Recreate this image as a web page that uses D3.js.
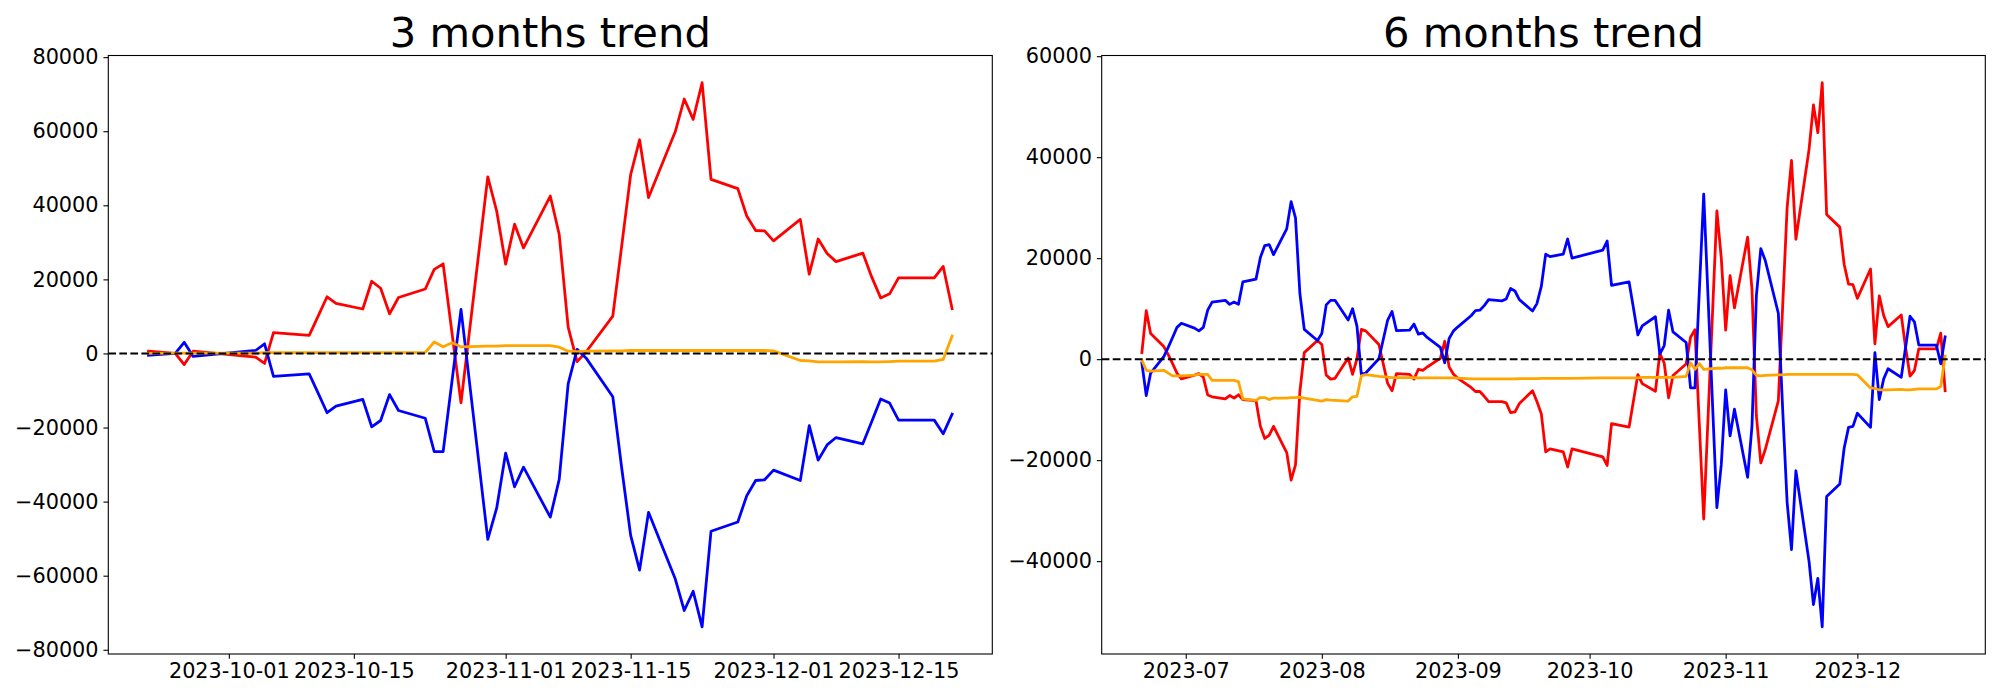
<!DOCTYPE html>
<html><head><meta charset="utf-8">
<script src="https://cdn.jsdelivr.net/npm/d3@7"></script>
<style>
body{margin:0;background:#fff}
svg{display:block}
text{font-family:"DejaVu Sans",sans-serif;fill:#000}
</style>
</head><body>
<svg id="chart" width="2000" height="700"></svg>
<script>
// ---------- 3 months data ----------
const dates3 = ["2023-09-22","2023-09-25","2023-09-26","2023-09-27",
"2023-10-04","2023-10-05","2023-10-06","2023-10-10","2023-10-11","2023-10-12","2023-10-13",
"2023-10-16","2023-10-17","2023-10-18","2023-10-19","2023-10-20",
"2023-10-23","2023-10-24","2023-10-25","2023-10-26","2023-10-27","2023-10-30","2023-10-31",
"2023-11-01","2023-11-02","2023-11-03","2023-11-06","2023-11-07","2023-11-08","2023-11-09","2023-11-10",
"2023-11-13","2023-11-14","2023-11-15","2023-11-16","2023-11-17",
"2023-11-20","2023-11-21","2023-11-22","2023-11-23","2023-11-24",
"2023-11-27","2023-11-28","2023-11-29","2023-11-30","2023-12-01",
"2023-12-04","2023-12-05","2023-12-06","2023-12-07","2023-12-08",
"2023-12-11","2023-12-12","2023-12-13","2023-12-14","2023-12-15",
"2023-12-18","2023-12-19","2023-12-20","2023-12-21"];
const red3 = [600,0,-3000,600, -1000,-2700,5600, 4900,10100,15300,13500, 12000,19500,17600,10700,15100,
17400,22700,24200,5400,-13300, 47700,38400, 24100,34900,28500, 42500,32100,7100,-2200,400,
10100,29100,48300,57700,42100, 59900,68700,63200,73100,47000, 44500,37100,33200,33100, 30400,
36200,21400,30900,27000,24800, 27100,20600,15000,16100,20400, 20400,20400,23500,12100];
const blue3 = [-500,0,3000,-800, 800,2600,-6200, -5500,-10700,-16000,-14200, -12400,-19800,-18100,-11100,-15400,
-17500,-26500,-26500,-7300,11900, -50200,-41700, -26900,-36000,-30700, -44200,-34000,-8200,1100,-1200,
-11700,-31000,-49100,-58500,-42900, -60900,-69400,-64200,-73800,-48000, -45500,-38400,-34300,-34100, -31500,
-34300,-19500,-28800,-24700,-22700, -24400,-18400,-12300,-13400,-18000, -18000,-18000,-21700,-16400];
const orange3 = [0,100,100,100, 100,200,200, 200,200,200,200, 200,200,200,200,200,
300,3100,1800,2900,1800, 2000,2000, 2100,2100,2100, 2100,1700,600,500,600,
700,700,800,800,800, 800,800,800,800,800, 800,800,800,800, 700,
-1900,-2000,-2300,-2300,-2300, -2200,-2300,-2300,-2200,-2100, -2100,-2100,-1600,4700];

// ---------- 6 months data ----------
const dates6 = ["2023-06-21","2023-06-22","2023-06-23","2023-06-26","2023-06-27","2023-06-28","2023-06-29","2023-06-30",
"2023-07-03","2023-07-04","2023-07-05","2023-07-06","2023-07-07",
"2023-07-10","2023-07-11","2023-07-12","2023-07-13","2023-07-14",
"2023-07-17","2023-07-18","2023-07-19","2023-07-20","2023-07-21",
"2023-07-24","2023-07-25","2023-07-26","2023-07-27","2023-07-28","2023-07-31",
"2023-08-01","2023-08-02","2023-08-03","2023-08-04",
"2023-08-07","2023-08-08","2023-08-09","2023-08-10","2023-08-11",
"2023-08-14","2023-08-16","2023-08-17","2023-08-18",
"2023-08-21","2023-08-22","2023-08-23","2023-08-24","2023-08-25",
"2023-08-28","2023-08-29","2023-08-30","2023-08-31","2023-09-01",
"2023-09-04","2023-09-05","2023-09-06","2023-09-07","2023-09-08",
"2023-09-11","2023-09-12","2023-09-13","2023-09-14","2023-09-15",
"2023-09-18","2023-09-19","2023-09-20","2023-09-21",
"2023-09-22","2023-09-25","2023-09-26","2023-09-27",
"2023-10-04","2023-10-05","2023-10-06","2023-10-10","2023-10-11","2023-10-12","2023-10-13",
"2023-10-16","2023-10-17","2023-10-18","2023-10-19","2023-10-20",
"2023-10-23","2023-10-24","2023-10-25","2023-10-26","2023-10-27","2023-10-30","2023-10-31",
"2023-11-01","2023-11-02","2023-11-03","2023-11-06","2023-11-07","2023-11-08","2023-11-09","2023-11-10",
"2023-11-13","2023-11-14","2023-11-15","2023-11-16","2023-11-17",
"2023-11-20","2023-11-21","2023-11-22","2023-11-23","2023-11-24",
"2023-11-27","2023-11-28","2023-11-29","2023-11-30","2023-12-01",
"2023-12-04","2023-12-05","2023-12-06","2023-12-07","2023-12-08",
"2023-12-11","2023-12-12","2023-12-13","2023-12-14","2023-12-15",
"2023-12-18","2023-12-19","2023-12-20","2023-12-21"];
const red6 = [1300,9600,5100,2500,900,-900,-2750,-3900,
-3150,-2850,-3550,-7100,-7450, -7850,-7200,-7700,-7050,-8000, -8200,-13300,-15700,-15100,-13300,
-18500,-23950,-20950,-6400,1300,3700, 2900,-3150,-3950,-3800, 250,-3000,80,5900,5600,
2900,-4800,-6250,-2850, -3000,-3950,-2000,-2200,-1550, 160,3550,-1550,-3000,-3800,
-5600,-6400,-6400,-7350,-8400, -8400,-8650,-10600,-10450,-8800, -6250,-8400,-10800,-18350,
-17750,-18350,-21350,-17750, -19350,-21050,-12750, -13450,-8250,-3050,-4850, -6350,1150,-750,-7650,-3250,
-950,4350,5850,-12950,-31650, 29350,20050, 5750,16550,10150, 24150,13750,-11250,-20550,-17950,
-8250,10750,29950,39350,23750, 41550,50350,44850,54750,28650, 26150,18750,14850,14750, 12050,
17850,3050,12550,8650,6450, 8750,2250,-3350,-2250,2050, 2050,2050,5150,-6250];
const blue6 = [-730,-7200,-2750,500,2350,4300,6300,7100,
6150,5600,6300,9700,11300, 11650,10850,11300,10850,15300, 15850,20150,22500,22700,20700,
25800,31200,28000,13000,5900,3700, 5100,10750,11650,11650, 7750,10000,6550,-3000,-2750,
80,7750,9450,5650, 5750,6950,4950,5200,4300, 2350,-730,4100,5600,6400,
8600,9600,9700,10600,11800, 11550,11900,14000,13500,11800, 9550,11000,14400,20800,
20300,20800,23800,20000, 21600,23400,14600, 15300,10100,4800,6600, 8400,1000,2700,9700,5400,
3300,-5700,-5700,13500,32700, -29400,-20900, -6100,-15200,-9900, -23400,-13200,12600,21900,19600,
9100,-10200,-28300,-37700,-22100, -40100,-48600,-43400,-53000,-27200, -24700,-17600,-13500,-13300, -10700,
-13500,1300,-8000,-3900,-1900, -3600,2400,8500,7400,2800, 2800,2800,-900,4400];
const orange6 = [-150,-2200,-2350,-2200,-2750,-3300,-3300,-3300,
-3150,-3000,-3000,-3000,-4200, -4200,-4200,-4200,-4450,-7850, -8150,-7600,-7600,-8000,-7700,
-7700,-7600,-7600,-7500,-7700,-8150, -8300,-8000,-8100,-8150, -8300,-7450,-7350,-3300,-3050,
-3400,-3550,-3650,-3650, -3650,-3650,-3700,-3700,-3700, -3700,-3700,-3700,-3700,-3750,
-3900,-3900,-3900,-3900,-3900, -3900,-3900,-3900,-3900,-3850, -3850,-3850,-3800,-3800,
-3800,-3800,-3800,-3800, -3700,-3700,-3700, -3700,-3700,-3700,-3600, -3600,-3600,-3600,-3600,-3600,
-3400,-700,-2000,-900,-2000, -1800,-1800, -1700,-1700,-1700, -1700,-2100,-3200,-3300,-3200,
-3100,-3100,-3000,-3000,-3000, -3000,-3000,-3000,-3000,-3000, -3000,-3000,-3000,-3000, -3100,
-5700,-5800,-6100,-6100,-6100, -6000,-6100,-6100,-6000,-5900, -5900,-5900,-5400,600];

// ---------- ticks ----------
const xTicks3 = ["2023-10-01","2023-10-15","2023-11-01","2023-11-15","2023-12-01","2023-12-15"];
const xTickLabels3 = ["2023-10-01","2023-10-15","2023-11-01","2023-11-15","2023-12-01","2023-12-15"];
const xTicks6 = ["2023-07-01","2023-08-01","2023-09-01","2023-10-01","2023-11-01","2023-12-01"];
const xTickLabels6 = ["2023-07","2023-08","2023-09","2023-10","2023-11","2023-12"];
const yTicks3 = [-80000,-60000,-40000,-20000,0,20000,40000,60000,80000];
const yTicks6 = [-40000,-20000,0,20000,40000,60000];
const titles = ["3 months trend","6 months trend"];
const colors = {red:"#ff0000", blue:"#0000ff", orange:"#ffa500"};

const parse = d3.utcParse("%Y-%m-%d");
const svg = d3.select("#chart");
svg.append("rect").attr("width",2000).attr("height",700).attr("fill","#fff");

const TICK = 4.86, PAD = 4.86, FS = 20.8;

function panel(box, title, dates, series, xTicks, xLabels, yTicks){
  const dts = dates.map(parse);
  const [d0,d1] = d3.extent(dts);
  const span = d1 - d0;
  const x = d3.scaleUtc().domain([new Date(+d0 - span*0.05), new Date(+d1 + span*0.05)]).range([box.l, box.r]);
  const all = series.flatMap(s=>s.values);
  const mn = d3.min(all), mx = d3.max(all), r = mx-mn;
  const y = d3.scaleLinear().domain([mn - r*0.05, mx + r*0.05]).range([box.b, box.t]);
  const g = svg.append("g");

  const line = d3.line().x((d,i)=>x(dts[i])).y(d=>y(d));
  series.forEach(s=>{
    g.append("path").attr("d", line(s.values)).attr("fill","none")
      .attr("stroke", s.color).attr("stroke-width",2.78)
      .attr("stroke-linejoin","round").attr("stroke-linecap","square");
  });
  g.append("line").attr("x1",box.l).attr("x2",box.r).attr("y1",y(0)).attr("y2",y(0))
    .attr("stroke","#000").attr("stroke-width",2.08).attr("stroke-dasharray","7.7,3.33");

  const xa = g.append("g").attr("transform",`translate(0,${box.b})`)
    .call(d3.axisBottom(x).tickValues(xTicks.map(parse)).tickFormat((d,i)=>xLabels[i])
      .tickSize(TICK).tickPadding(PAD));
  const ya = g.append("g").attr("transform",`translate(${box.l},0)`)
    .call(d3.axisLeft(y).tickValues(yTicks).tickFormat(v=> v<0 ? "\u2212"+Math.abs(v) : String(v))
      .tickSize(TICK).tickPadding(PAD));
  [xa,ya].forEach(a=>{
    a.select(".domain").remove();
    a.selectAll(".tick line").attr("stroke","#000").attr("stroke-width",1.1);
    a.selectAll("text").attr("font-size",FS).attr("font-family","DejaVu Sans").attr("fill","#000");
  });
  g.append("rect").attr("x",box.l).attr("y",box.t).attr("width",box.r-box.l).attr("height",box.b-box.t)
    .attr("fill","none").attr("stroke","#000").attr("stroke-width",1.1);
  g.append("text").attr("x",(box.l+box.r)/2).attr("y",box.t-8.33).attr("text-anchor","middle")
    .attr("font-size",41.7).text(title);
}

panel({l:108.3,r:992.3,t:55.5,b:654}, titles[0], dates3,
  [{values:red3,color:colors.red},{values:blue3,color:colors.blue},{values:orange3,color:colors.orange}],
  xTicks3, xTickLabels3, yTicks3);
panel({l:1101.7,r:1985.3,t:55.5,b:654}, titles[1], dates6,
  [{values:red6,color:colors.red},{values:blue6,color:colors.blue},{values:orange6,color:colors.orange}],
  xTicks6, xTickLabels6, yTicks6);
</script>
</body></html>
